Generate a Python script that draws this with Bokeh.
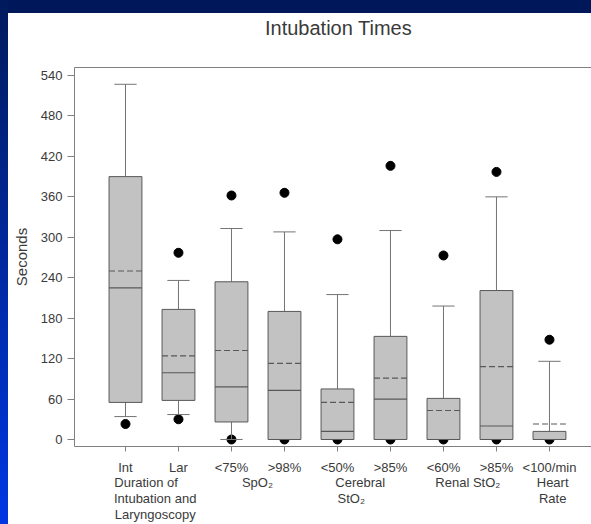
import numpy as np
from bokeh.plotting import figure
from bokeh.models import ColumnDataSource, LinearAxis, FixedTicker, Range1d, Div
from bokeh.layouts import row, column
from bokeh.embed import file_html
from bokeh.resources import INLINE

# ---- data ----
tick_labels = ["Int", "Lar", "<75%", ">98%", "<50%", ">85%", "<60%", ">85%", "<100/min"]
group_pos = [1.56, 3.49, 5.43, 7.46, 9.06]
group_labels = ["Duration of" + "\u00a0" * 5 + "\nIntubation and\nLaryngoscopy",
                "SpO\u2082",
                "Cerebral\nStO\u2082" + "\u00a0" * 5,
                "Renal StO\u2082",
                "Heart\nRate"]
upper_dots = [np.nan, 277, 362, 366, 297, 406, 273, 397, 148]
lower_dots = [23, 30, 0, 0, 0, 0, 0, 0, 0]
upper_whisker = [527, 236, 313, 308, 215, 310, 198, 360, 116]
q3 = [390, 193, 234, 190, 75, 153, 61, 221, 12]
mean = [250, 124, 132, 113, 55, 91, 43, 108, 23]
median = [225, 99, 78, 73, 12, 60, 0, 20, 0]
q1 = [55, 58, 26, 0, 0, 0, 0, 0, 0]
lower_whisker = [34, 37, 0, 0, 0, 0, 0, 0, 0]
y_ticks = [0, 60, 120, 180, 240, 300, 360, 420, 480, 540]
title_text = "\u00a0\u00a0Intubation Times"

FONT = "Liberation Sans"
TXT = "#3a3a3a"
AX = "#808080"

xs = list(range(1, len(tick_labels) + 1))
box_w = 0.62
cap_w = 0.42

src = ColumnDataSource(dict(
    x=xs, up=upper_dots, lo=lower_dots, uw=upper_whisker, q3=q3,
    mean=mean, med=median, q1=q1, lw=lower_whisker,
    xl=[x - box_w / 2 for x in xs], xr=[x + box_w / 2 for x in xs],
    cl=[x - cap_w / 2 for x in xs], cr=[x + cap_w / 2 for x in xs],
))

p = figure(width=583, height=511, output_backend="svg", toolbar_location=None,
           x_range=Range1d(0.038, 9.793), y_range=Range1d(-10.4, 551.9),
           min_border_left=66, min_border_top=54, min_border_bottom=78,
           min_border_right=0, x_axis_location=None, y_axis_location=None,
           margin=0)
p.outline_line_color = None
p.grid.visible = False
p.background_fill_color = "white"
p.border_fill_color = "white"

def style_axis(ax, size="13px"):
    ax.major_tick_in = 0
    ax.minor_tick_out = 0
    ax.minor_tick_in = 0
    ax.axis_line_color = AX
    ax.major_tick_line_color = AX
    ax.minor_tick_line_color = AX
    ax.major_label_text_font = FONT
    ax.major_label_text_font_size = size
    ax.major_label_text_color = TXT

# left axis
left = LinearAxis(ticker=FixedTicker(ticks=y_ticks), axis_label="Seconds")
style_axis(left)
left.major_tick_out = 7
left.major_label_standoff = 5
left.axis_label_standoff = 8
left.axis_label_text_font = FONT
left.axis_label_text_font_size = "15px"
left.axis_label_text_font_style = "normal"
left.axis_label_text_color = TXT
p.add_layout(left, "left")

# bottom axis: category labels (minor ticks give the tick marks) + group labels
bottom = LinearAxis(ticker=FixedTicker(ticks=xs + group_pos, minor_ticks=xs))
style_axis(bottom)
ov = {x: t for x, t in zip(xs, tick_labels)}
ov.update({x: "\u00a0\n" + t for x, t in zip(group_pos, group_labels)})
bottom.major_label_overrides = ov
bottom.major_tick_out = 0
bottom.major_tick_line_color = None
bottom.minor_tick_out = 5
bottom.major_label_standoff = 8
bottom.major_label_text_line_height = 1.05
p.add_layout(bottom, "below")

# top axis: frame line + title
top = LinearAxis(ticker=FixedTicker(ticks=[]), axis_label=title_text)
top.major_tick_out = 0
top.major_tick_in = 0
top.minor_tick_out = 0
top.minor_tick_in = 0
top.major_label_standoff = 0
top.axis_line_color = AX
top.major_label_text_font_size = "0px"
top.axis_label_standoff = 29
top.axis_label_text_font = FONT
top.axis_label_text_font_size = "20px"
top.axis_label_text_font_style = "normal"
top.axis_label_text_color = TXT
p.add_layout(top, "above")

# dots (drawn first so boxes cover them)
p.scatter("x", "up", source=src, size=9, color="black")
p.scatter("x", "lo", source=src, size=9, color="black")

# whiskers
WH = "#747474"
p.segment("x", "q3", "x", "uw", source=src, line_color=WH, line_width=1)
p.segment("x", "q1", "x", "lw", source=src, line_color=WH, line_width=1)
p.segment("cl", "uw", "cr", "uw", source=src, line_color=WH, line_width=1)
p.segment("cl", "lw", "cr", "lw", source=src, line_color=WH, line_width=1)

# boxes
p.vbar(x="x", width=box_w, bottom="q1", top="q3", source=src,
       fill_color="#c2c2c2", line_color="#585858", line_width=1)
p.segment("xl", "med", "xr", "med", source=src, line_color="#585858", line_width=1.2)
p.segment("xl", "mean", "xr", "mean", source=src, line_color="#585858",
          line_width=1.2, line_dash="6 3")

# blue slide frame
left_strip = Div(text="", width=8, height=524, margin=0,
                 styles={"background": "linear-gradient(#001a5c, #0037e3)"})
top_strip = Div(text="", width=583, height=13, margin=0,
                styles={"background": "#00185a"})
layout = row(left_strip, column(top_strip, p, spacing=0), spacing=0)

open("out.html", "w").write(file_html(layout, INLINE))
